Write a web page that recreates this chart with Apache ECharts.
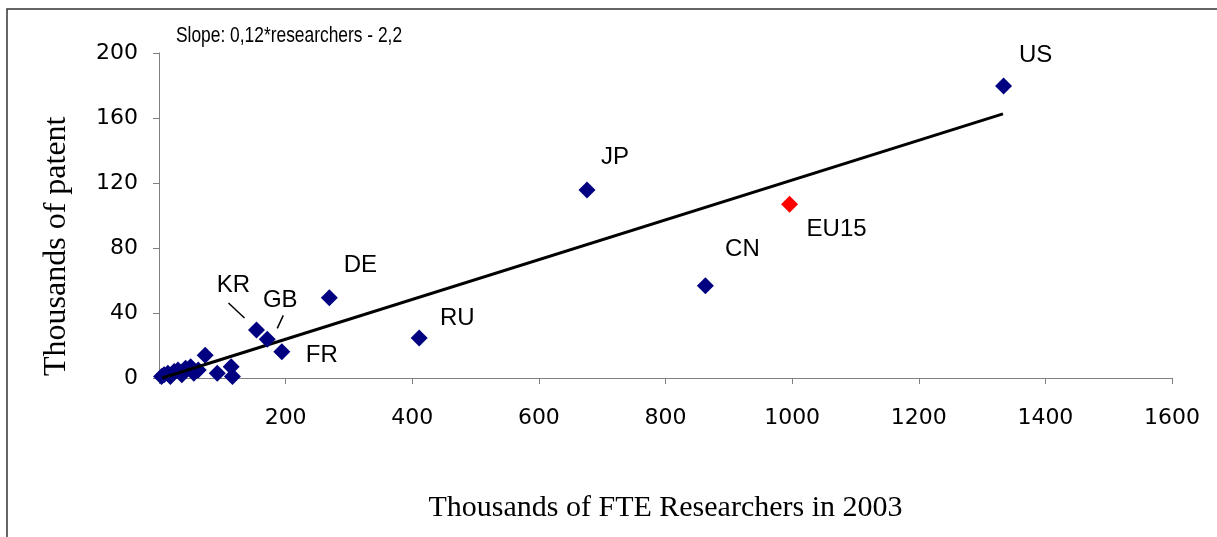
<!DOCTYPE html>
<html>
<head>
<meta charset="utf-8">
<script src="https://cdn.jsdelivr.net/npm/echarts@6/dist/echarts.min.js"></script>
<style>
  html, body { margin: 0; padding: 0; background: #fff; }
  #chart { width: 1217px; height: 537px; }
</style>
</head>
<body>
<div id="chart"></div>
<script>
// labelled countries
const countries = ["US", "JP", "EU15", "CN", "RU", "DE", "KR", "GB", "FR"];
const researchers = [1334, 676, 996, 863, 411, 269, 154, 171, 194];
const patents = [179.7, 115.7, 106.9, 56.8, 24.6, 49.4, 29.5, 23.8, 16.2];
// label offsets from the marker, px
const labelOffsets = [[32, -31], [28, -33], [47, 25], [37, -36], [38, -20], [31, -32], [-23, -45], [13, -39], [40, 4]];

// small countries near the origin (no labels)
const smallResearchers = [4, 8, 14, 18, 24, 30, 36, 42, 50, 55, 62, 73, 92, 114, 116];
const smallPatents = [1, 2, 3, 1, 4, 5, 2, 6, 7, 3, 5, 14, 3, 7, 1];

// fitted line endpoints
const fitX = [5, 1333];
const fitY = [0, 162.5];

const xTicks = [0, 200, 400, 600, 800, 1000, 1200, 1400, 1600];
const yTicks = [0, 40, 80, 120, 160, 200];

const navy = "#000080";

let mychart = echarts.init(document.getElementById("chart"));

mychart.setOption({
  animation: false,
  grid: { left: 159, top: 53, right: 45, bottom: 159 },
  xAxis: {
    type: "value",
    min: xTicks[0],
    max: xTicks[xTicks.length - 1],
    interval: 200,
    name: "Thousands of FTE Researchers in 2003",
    nameLocation: "middle",
    nameGap: 115,
    nameTextStyle: { fontFamily: "Liberation Serif", fontSize: 30, color: "#000" },
    axisLine: { lineStyle: { color: "#808080", width: 1 } },
    axisTick: { show: true, inside: false, length: 6, lineStyle: { color: "#808080" } },
    axisLabel: {
      margin: 29,
      fontFamily: "DejaVu Sans",
      fontSize: 22,
      color: "#000",
      formatter: function (v) { return v === 0 ? "" : String(v); }
    },
    splitLine: { show: false }
  },
  yAxis: {
    type: "value",
    min: yTicks[0],
    max: yTicks[yTicks.length - 1],
    interval: 40,
    axisLine: { show: true, lineStyle: { color: "#808080", width: 1 } },
    axisTick: { show: true, length: 6, lineStyle: { color: "#808080" } },
    axisLabel: { margin: 21, fontFamily: "DejaVu Sans", fontSize: 22, color: "#000" },
    splitLine: { show: false }
  },
  graphic: [
    {
      id: "frame",
      type: "rect",
      shape: { x: 7, y: 9, width: 1240, height: 560 },
      style: { fill: "none", stroke: "#333", lineWidth: 1.5 },
      silent: true
    },
    {
      id: "slope",
      type: "text",
      x: 176,
      y: 36,
      scaleX: 0.79,
      style: {
        text: "Slope: 0,12*researchers - 2,2",
        fontFamily: "Liberation Sans",
        fontSize: 22,
        fontWeight: "normal",
        fill: "#000",
        textVerticalAlign: "middle"
      }
    },
    {
      id: "ytitle",
      type: "text",
      x: 57,
      y: 376,
      rotation: Math.PI / 2,
      style: {
        text: "Thousands of patents",
        fontFamily: "Liberation Serif",
        fontSize: 32,
        fill: "#000",
        width: 262,
        overflow: "truncate",
        ellipsis: "",
        textAlign: "left",
        textVerticalAlign: "middle"
      }
    }
  ],
  series: [
    {
      name: "fit",
      type: "line",
      data: fitX.map((x, i) => [x, fitY[i]]),
      showSymbol: false,
      lineStyle: { color: "#000", width: 3 },
      z: 3
    },
    {
      name: "small",
      type: "scatter",
      symbol: "diamond",
      symbolSize: 17,
      itemStyle: { color: navy, opacity: 1 },
      data: smallResearchers.map((x, i) => [x, smallPatents[i]]),
      z: 2
    },
    {
      name: "countries",
      type: "scatter",
      symbol: "diamond",
      symbolSize: 17,
      itemStyle: { color: navy, opacity: 1 },
      label: {
        show: true,
        position: "inside",
        formatter: "{b}",
        fontFamily: "Liberation Sans",
        fontSize: 24,
        color: "#000"
      },
      data: countries.map((c, i) => ({
        name: c,
        value: [researchers[i], patents[i]],
        itemStyle: c === "EU15" ? { color: "#ff0000", opacity: 1 } : undefined,
        label: { offset: labelOffsets[i] }
      })),
      z: 4
    }
  ]
});

// leader lines for KR and GB
function leader(name, a, b) {
  const i = countries.indexOf(name);
  const p = mychart.convertToPixel({ gridIndex: 0 }, [researchers[i], patents[i]]);
  return {
    id: "leader" + name,
    type: "line",
    shape: { x1: p[0] + a[0], y1: p[1] + a[1], x2: p[0] + b[0], y2: p[1] + b[1] },
    style: { stroke: "#000", lineWidth: 1.5 },
    silent: true
  };
}
mychart.setOption({
  graphic: [leader("KR", [-28, -27], [-12, -12]), leader("GB", [16, -24], [10, -11])]
});
</script>
</body>
</html>
